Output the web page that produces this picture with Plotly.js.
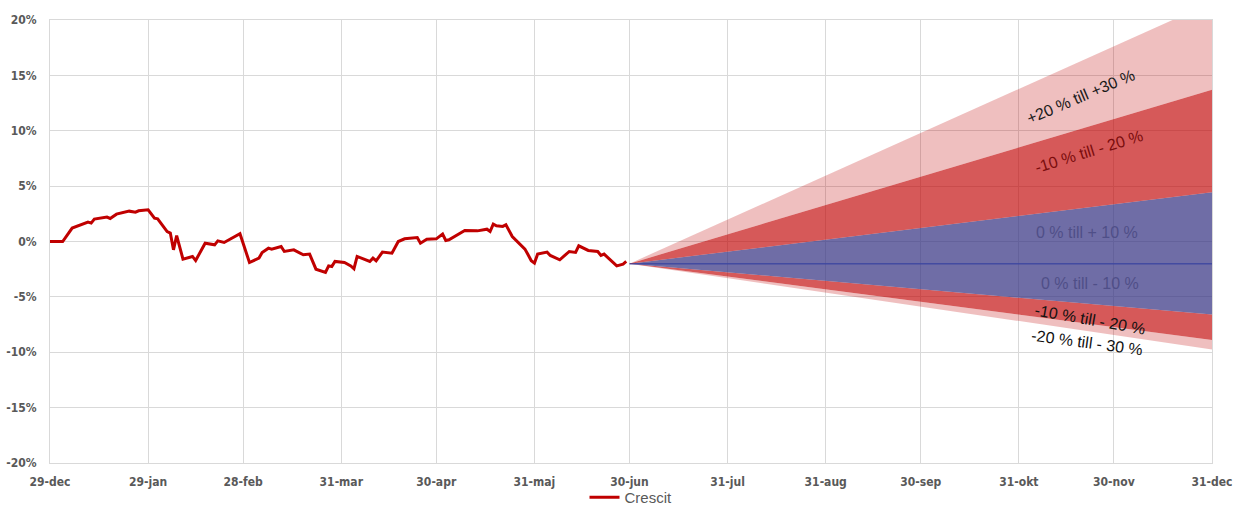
<!DOCTYPE html>
<html>
<head>
<meta charset="utf-8">
<script src="https://cdn.plot.ly/plotly-3.0.1.min.js"></script>
<style>html,body{margin:0;padding:0;background:#fff;}#chart{width:1234px;height:509px;}</style>
</head>
<body>
<div id="chart"></div>
<script>
// Crescit daily development (%)
const lineDates = [
  '2018-12-29','2019-01-02','2019-01-05','2019-01-08','2019-01-10','2019-01-11','2019-01-12','2019-01-16','2019-01-17','2019-01-19',
  '2019-01-22','2019-01-23','2019-01-25','2019-01-26','2019-01-29','2019-01-31','2019-02-01','2019-02-04','2019-02-05','2019-02-06',
  '2019-02-07','2019-02-09','2019-02-12','2019-02-13','2019-02-16','2019-02-19','2019-02-20','2019-02-22','2019-02-27','2019-03-02',
  '2019-03-05','2019-03-06','2019-03-08','2019-03-09','2019-03-12','2019-03-13','2019-03-16','2019-03-19','2019-03-21','2019-03-23',
  '2019-03-26','2019-03-27','2019-03-28','2019-03-29','2019-04-01','2019-04-03','2019-04-04','2019-04-05','2019-04-09','2019-04-10',
  '2019-04-11','2019-04-13','2019-04-16','2019-04-18','2019-04-20','2019-04-24','2019-04-25','2019-04-27','2019-04-30','2019-05-02',
  '2019-05-03','2019-05-04','2019-05-09','2019-05-13','2019-05-16','2019-05-17','2019-05-18','2019-05-19','2019-05-21','2019-05-22',
  '2019-05-24','2019-05-28','2019-05-29','2019-05-30','2019-05-31','2019-06-01','2019-06-04','2019-06-05','2019-06-08','2019-06-11',
  '2019-06-13','2019-06-14','2019-06-17','2019-06-20','2019-06-21','2019-06-22','2019-06-26','2019-06-28','2019-06-29'
];
const lineValues = [
  0.0, 0.0, 1.21, 1.5, 1.75, 1.66, 2.02, 2.2, 2.08, 2.47,
  2.65, 2.74, 2.65, 2.77, 2.86, 2.11, 2.05, 0.9, 0.76, -0.75,
  0.54, -1.59, -1.35, -1.72, -0.15, -0.3, 0.06, -0.09, 0.7, -1.9,
  -1.5, -1.0, -0.6, -0.69, -0.45, -0.9, -0.75, -1.2, -1.14, -2.5,
  -2.8, -2.2, -2.26, -1.8, -1.9, -2.2, -2.46, -1.35, -1.8, -1.5,
  -1.74, -0.96, -1.05, 0.0, 0.24, 0.36, -0.15, 0.21, 0.24, 0.67,
  0.09, 0.15, 0.99, 0.96, 1.11, 0.9, 1.57, 1.42, 1.36, 1.51,
  0.45, -0.69, -1.2, -1.74, -1.95, -1.14, -0.96, -1.26, -1.65, -0.9,
  -0.99, -0.39, -0.81, -0.9, -1.26, -1.14, -2.2, -2.04, -1.8
];

// Scenario fan (start 30-jun, end 31-dec), band edges in %
const fanDates = ['2019-06-30', '2019-12-31'];
const pinkLow  = [-2.0, -9.75];
const redLow   = [-2.0, -8.9];
const blueLow  = [-2.0, -6.6];
const midLine  = [-2.0, -2.0];
const blueHigh = [-2.0, 4.45];
const redHigh  = [-2.0, 13.7];
const pinkHigh = [-2.0, 21.6];

// Axis ticks
const xTickVals = ['2018-12-29','2019-01-29','2019-02-28','2019-03-31','2019-04-30','2019-05-31','2019-06-30','2019-07-31','2019-08-31','2019-09-30','2019-10-31','2019-11-30','2019-12-31'];
const xTickText = ['29-dec','29-jan','28-feb','31-mar','30-apr','31-maj','30-jun','31-jul','31-aug','30-sep','31-okt','30-nov','31-dec'];
const yTickVals = [-20,-15,-10,-5,0,5,10,15,20];
const yTickText = ['-20%','-15%','-10%','-5%','0%','5%','10%','15%','20%'];

// Band labels
const bandLabels = ['+20 % till +30 %','-10 % till - 20 %','0 % till + 10 %','0 % till - 10 %','-10 % till - 20 %','-20 % till - 30 %'];

const PINK = 'rgba(192,0,0,0.25)';
const RED  = 'rgba(192,0,0,0.65)';
const BLUE = 'rgba(50,47,128,0.70)';

function band(y, fillcolor, lineColor, lineWidth) {
  return {
    x: fanDates, y: y, type: 'scatter', mode: 'lines',
    line: {width: lineWidth || 0, color: lineColor || 'rgba(0,0,0,0)'},
    fill: fillcolor ? 'tonexty' : 'none', fillcolor: fillcolor,
    showlegend: false, hoverinfo: 'skip'
  };
}

const traces = [
  band(pinkLow, null),
  band(redLow, PINK),
  band(blueLow, RED),
  band(midLine, BLUE, 'rgba(60,70,160,0.9)', 1.5),
  band(blueHigh, BLUE),
  band(redHigh, RED),
  band(pinkHigh, PINK),
  {
    x: lineDates, y: lineValues, type: 'scatter', mode: 'lines', name: 'Crescit',
    line: {color: '#C00000', width: 3}, showlegend: true
  }
];

const tickFont = {family: '"Liberation Sans Narrow", "DejaVu Sans Condensed", Arial, sans-serif', size: 12, color: '#595959', weight: 'bold'};
const annFont = {family: '"Liberation Sans", Arial, sans-serif', size: 16};

const annPos = [
  {x: 0.8873, y: 0.8269, angle: -23, color: '#1a1a1a'},
  {x: 0.8941, y: 0.7027, angle: -17, color: '#7a0c0c'},
  {x: 0.8924, y: 0.5199, angle: 0, color: '#4f4f88'},
  {x: 0.8950, y: 0.4063, angle: 0, color: '#4f4f88'},
  {x: 0.8950, y: 0.3228, angle: 10, color: '#111111'},
  {x: 0.8924, y: 0.2709, angle: 7.5, color: '#111111'}
];
const annotations = bandLabels.map((t, i) => ({
  text: t, xref: 'paper', yref: 'paper', x: annPos[i].x, y: annPos[i].y,
  showarrow: false, textangle: annPos[i].angle,
  font: Object.assign({}, annFont, {color: annPos[i].color}),
  xanchor: 'center', yanchor: 'middle'
}));

const layout = {
  width: 1234, height: 509,
  margin: {l: 50, r: 22, t: 20, b: 46, autoexpand: false},
  paper_bgcolor: '#ffffff', plot_bgcolor: '#ffffff',
  xaxis: {
    type: 'date', range: ['2018-12-29', '2019-12-31'],
    tickmode: 'array', tickvals: xTickVals, ticktext: xTickText,
    showgrid: true, gridcolor: '#d9d9d9', gridwidth: 1,
    showline: true, linecolor: '#d9d9d9', mirror: true,
    ticks: 'outside', ticklen: 8, tickcolor: 'rgba(0,0,0,0)',
    tickfont: tickFont, zeroline: false, fixedrange: true, automargin: false
  },
  yaxis: {
    range: [-20, 20],
    tickmode: 'array', tickvals: yTickVals, ticktext: yTickText,
    showgrid: true, gridcolor: '#d9d9d9', gridwidth: 1,
    showline: true, linecolor: '#d9d9d9', mirror: true,
    zeroline: true, zerolinecolor: '#d9d9d9', zerolinewidth: 1,
    ticks: 'outside', ticklen: 10, tickcolor: 'rgba(0,0,0,0)',
    tickfont: tickFont, fixedrange: true, automargin: false
  },
  showlegend: true,
  legend: {
    orientation: 'h', x: 0.5, xanchor: 'center', y: -0.078, yanchor: 'middle',
    font: {family: '"Liberation Sans", Arial, sans-serif', size: 15, color: '#595959'},
    bgcolor: 'rgba(0,0,0,0)', borderwidth: 0
  },
  annotations: annotations
};

Plotly.newPlot('chart', traces, layout, {staticPlot: true, displayModeBar: false});
</script>
</body>
</html>
